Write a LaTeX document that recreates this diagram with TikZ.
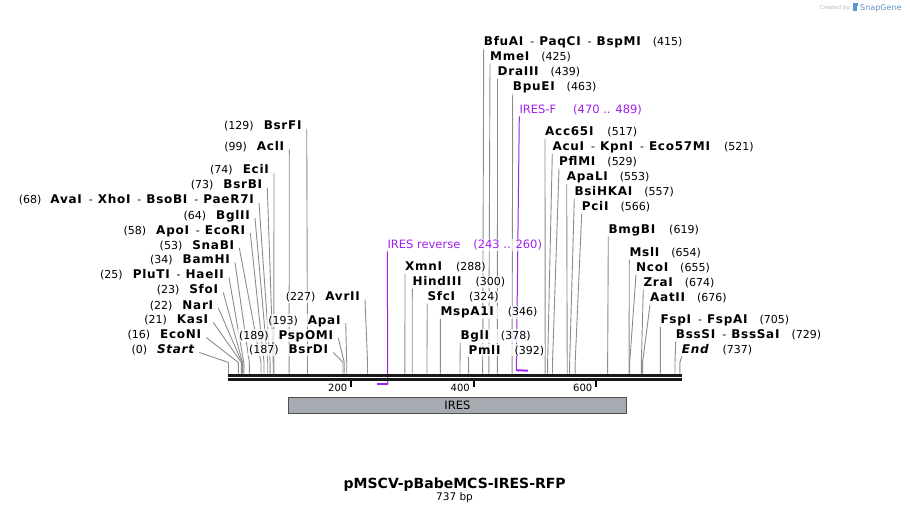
\documentclass[tikz,border=0pt]{standalone}
\usepackage{fontspec}
\setmainfont{DejaVu Sans}
\newfontfamily\nmfont[LetterSpace=6]{DejaVu Sans Bold}
\newfontfamily\nmfontit[LetterSpace=6]{DejaVu Sans Bold Oblique}
\definecolor{sitegray}{RGB}{140,140,140}
\definecolor{primerpurple}{RGB}{160,32,240}
\definecolor{featgray}{RGB}{166,171,178}
\definecolor{featborder}{RGB}{80,80,80}
\definecolor{sgblue}{RGB}{90,150,215}
\definecolor{wmgray}{RGB}{185,185,185}
\pgfdeclarelayer{bg}
\pgfsetlayers{bg,main}
\newcommand\bpx[1]{228.5+0.6125*#1}
\newcommand\nm[1]{{\fontsize{12}{14}\nmfont #1}}
\newcommand\nmi[1]{{\fontsize{12}{14}\nmfontit #1}}
\newcommand\sepr{\hspace{7pt}-\hspace{5pt}}
\tikzset{
  sitelbl/.style={inner sep=1pt, fill=white, fill opacity=0.75, text opacity=1,
    font=\fontsize{11}{12}\selectfont},
  primerlbl/.style={inner sep=1pt, fill=white, fill opacity=0.75, text opacity=1,
    text=primerpurple, font=\fontsize{11.5}{13}\selectfont},
  siteline/.style={draw=sitegray, line width=0.9pt},
  primerline/.style={draw=primerpurple, line width=1pt},
  primerfoot/.style={draw=primerpurple, line width=2pt},
  dnabar/.style={draw=black!90, line width=2.7pt},
  tickmark/.style={draw=black, line width=2pt},
  ticklbl/.style={inner sep=0pt, font=\fontsize{10}{12}\selectfont},
}
% left label: id, text, right x, baseline y, bp
\newcommand\Lsite[5]{%
  \node[sitelbl, anchor=base east] (#1) at (#3+1,#4) {#2};
  \coordinate (#1-e) at ({\bpx{#5}},362.5);
  \coordinate (#1-s) at ({\bpx{#5}},373.5);
  \begin{pgfonlayer}{bg}
    \draw[siteline] ([xshift=4pt,yshift=1pt]#1.base east) -- (#1-e) -- (#1-s);
  \end{pgfonlayer}}
% right label: id, text, left x, baseline y, bp
\newcommand\Rsite[5]{%
  \node[sitelbl, anchor=base west] (#1) at (#3-1,#4) {#2};
  \coordinate (#1-e) at ({\bpx{#5}},362.5);
  \coordinate (#1-s) at ({\bpx{#5}},373.5);
  \begin{pgfonlayer}{bg}
    \draw[siteline] ([xshift=1pt,yshift=-3pt]#1.base west) -- (#1-e) -- (#1-s);
  \end{pgfonlayer}}
\begin{document}
\begin{tikzpicture}[x=1pt,y=-1pt]
\path[use as bounding box] (0,0) rectangle (910,513);

% watermark
\node[anchor=base east, inner sep=0pt, text=wmgray, font=\fontsize{5.5}{6}\selectfont] (wmA) at (850,10) {Created by};
\fill[sgblue] (853,3.5) rectangle (856.5,11);
\fill[sgblue] (853,3.5) rectangle (858,6.5);
\node[anchor=base west, inner sep=0pt, text=sgblue!80!gray, font=\fontsize{8}{9}\selectfont] (wmB) at (860,10.5) {SnapGene};

% ---- left labels ----
\Lsite{BsrFI}{(129)\hspace{10pt}\nm{BsrFI}}{301.7}{130}{129}
\Lsite{AclI}{(99)\hspace{10pt}\nm{AclI}}{284.3}{150.7}{99}
\Lsite{EciI}{(74)\hspace{10pt}\nm{EciI}}{269}{174}{74}
\Lsite{BsrBI}{(73)\hspace{10pt}\nm{BsrBI}}{262.3}{189}{73}
\Lsite{AvaI}{(68)\hspace{9pt}\nm{AvaI}\sepr\nm{XhoI}\sepr\nm{BsoBI}\sepr\nm{PaeR7I}}{254}{204}{68}
\Lsite{BglII}{(64)\hspace{10pt}\nm{BglII}}{250}{219}{64}
\Lsite{ApoI}{(58)\hspace{10pt}\nm{ApoI}\sepr\nm{EcoRI}}{245.3}{234}{58}
\Lsite{SnaBI}{(53)\hspace{10pt}\nm{SnaBI}}{234.3}{249}{53}
\Lsite{BamHI}{(34)\hspace{10pt}\nm{BamHI}}{230}{263.5}{34}
\Lsite{PluTI}{(25)\hspace{10pt}\nm{PluTI}\sepr\nm{HaeII}}{224}{278.5}{25}
\Lsite{SfoI}{(23)\hspace{10pt}\nm{SfoI}}{218.3}{293.5}{23}
\Lsite{NarI}{(22)\hspace{10pt}\nm{NarI}}{213.3}{309}{22}
\Lsite{KasI}{(21)\hspace{10pt}\nm{KasI}}{208.3}{323.5}{21}
\Lsite{EcoNI}{(16)\hspace{10pt}\nm{EcoNI}}{201.3}{338.5}{16}
\Lsite{Start}{(0)\hspace{10pt}\nmi{Start}}{194.3}{353.5}{0}
\Lsite{AvrII}{(227)\hspace{10pt}\nm{AvrII}}{360}{300.7}{227}
\Lsite{ApaI}{(193)\hspace{10pt}\nm{ApaI}}{340.7}{324}{193}
\Lsite{PspOMI}{(189)\hspace{10pt}\nm{PspOMI}}{333.3}{339}{189}
\Lsite{BsrDI}{(187)\hspace{10pt}\nm{BsrDI}}{328.3}{353.5}{187}

% ---- right labels ----
\Rsite{BfuAI}{\nm{BfuAI}\sepr\nm{PaqCI}\sepr\nm{BspMI}\hspace{12pt}(415)}{483.7}{45.7}{415}
\Rsite{MmeI}{\nm{MmeI}\hspace{12pt}(425)}{490}{60.5}{425}
\Rsite{DraIII}{\nm{DraIII}\hspace{12pt}(439)}{497.5}{75.7}{439}
\Rsite{BpuEI}{\nm{BpuEI}\hspace{12pt}(463)}{512.7}{90.7}{463}
\Rsite{Acc65I}{\nm{Acc65I}\hspace{14pt}(517)}{545}{136}{517}
\Rsite{AcuI}{\nm{AcuI}\sepr\nm{KpnI}\sepr\nm{Eco57MI}\hspace{14pt}(521)}{552.3}{151}{521}
\Rsite{PflMI}{\nm{PflMI}\hspace{12pt}(529)}{559}{165.7}{529}
\Rsite{ApaLI}{\nm{ApaLI}\hspace{12pt}(553)}{566.7}{180.7}{553}
\Rsite{BsiHKAI}{\nm{BsiHKAI}\hspace{12pt}(557)}{574.3}{195.7}{557}
\Rsite{PciI}{\nm{PciI}\hspace{12pt}(566)}{581.7}{210.7}{566}
\Rsite{BmgBI}{\nm{BmgBI}\hspace{14pt}(619)}{608.3}{233.3}{619}
\Rsite{MslI}{\nm{MslI}\hspace{12pt}(654)}{629.3}{256.7}{654}
\Rsite{NcoI}{\nm{NcoI}\hspace{12pt}(655)}{636}{271.7}{655}
\Rsite{ZraI}{\nm{ZraI}\hspace{12pt}(674)}{643.3}{286.7}{674}
\Rsite{AatII}{\nm{AatII}\hspace{12pt}(676)}{650}{301.7}{676}
\Rsite{FspI}{\nm{FspI}\sepr\nm{FspAI}\hspace{12pt}(705)}{660.3}{323.3}{705}
\Rsite{BssSI}{\nm{BssSI}\sepr\nm{BssSaI}\hspace{12pt}(729)}{675.7}{338.3}{729}
\Rsite{End}{\nmi{End}\hspace{14pt}(737)}{681.7}{353.3}{737}
\Rsite{XmnI}{\nm{XmnI}\hspace{14pt}(288)}{405}{270.7}{288}
\Rsite{HindIII}{\nm{HindIII}\hspace{14pt}(300)}{412.3}{285.7}{300}
\Rsite{SfcI}{\nm{SfcI}\hspace{14pt}(324)}{427.3}{300.7}{324}
\Rsite{MspA1I}{\nm{MspA1I}\hspace{14pt}(346)}{440.3}{315.7}{346}
\Rsite{BglI}{\nm{BglI}\hspace{12pt}(378)}{460.3}{339}{378}
\Rsite{PmlI}{\nm{PmlI}\hspace{14pt}(392)}{468.3}{354}{392}

% ---- primers ----
\node[primerlbl, anchor=base west] (iresF) at (518.3,113.3) {IRES-F\hspace{17pt}(470 .. 489)};
\coordinate (iresF-a) at ({\bpx{470}},370.7);
\coordinate (iresF-b) at ({\bpx{489}},370.7);
\node[primerlbl, anchor=base west] (iresR) at (386.3,248.3) {IRES reverse\hspace{13pt}(243 .. 260)};
\coordinate (iresR-a) at ({\bpx{260}},384);
\coordinate (iresR-b) at ({\bpx{243}},384);
\begin{pgfonlayer}{bg}
  \draw[primerline] ([xshift=1pt,yshift=-3pt]iresF.base west) -- (iresF-a);
  \draw[primerfoot] ([yshift=0.5pt]iresF-a) -- (iresF-b);
  \draw[primerline] ([xshift=1pt,yshift=-3pt]iresR.base west) -- (iresR-a);
  \draw[primerfoot] ([xshift=0.5pt]iresR-a) -- (iresR-b);
\end{pgfonlayer}

% ---- DNA backbone ----
\coordinate (dnaL1) at (228,375.3);
\coordinate (dnaR1) at (681.5,375.3);
\coordinate (dnaL2) at (228,379.4);
\coordinate (dnaR2) at (681.5,379.4);
\draw[dnabar] (dnaL1) -- (dnaR1);
\draw[dnabar] (dnaL2) -- (dnaR2);

% ticks
\foreach \v in {200,400,600}{
  \coordinate (tk\v) at ({\bpx{\v}},380.7);
  \draw[tickmark] (tk\v) -- ++(0,6.7);
  \node[ticklbl, anchor=base east] (tl\v) at ({\bpx{\v}-3.5},391.3) {\v};
}

% ---- feature ----
\node[draw=featborder, line width=0.9pt, fill=featgray, anchor=north west, minimum width=338pt,
  minimum height=16.5pt, inner sep=0pt, font=\fontsize{11.5}{13}\selectfont] (ires) at (288,396.8) {IRES};

% ---- title ----
\node[anchor=base, inner sep=0pt, font=\fontsize{14}{16}\selectfont\bfseries] (title) at (454.7,488.3) {pMSCV-pBabeMCS-IRES-RFP};
\node[anchor=base, inner sep=0pt, font=\fontsize{10.5}{12}\selectfont] (len) at (454.5,500.7) {737 bp};
\end{tikzpicture}
\end{document}
